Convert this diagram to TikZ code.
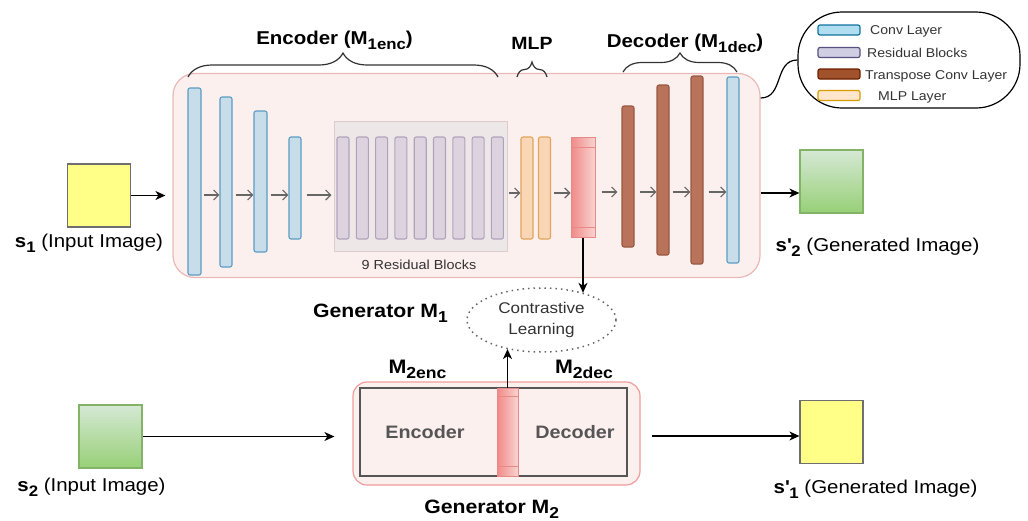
\documentclass[tikz,border=0pt]{standalone}
\usepackage{fontspec}
\setmainfont{Liberation Sans}[FakeStretch=1.1]
\usepackage{graphicx}
\usetikzlibrary{shapes.geometric,arrows.meta,decorations.pathreplacing,calc}

% font size in pt, baseline skip equal to size
\newcommand{\setfs}[1]{\fontsize{#1}{#1}\selectfont}
% lowered, reduced subscript as used in the labels
\newcommand{\lowsub}[1]{\raisebox{-0.28em}{\scalebox{0.82}{#1}}}
\newcommand{\prm}{\textquotesingle}

\definecolor{genfill}{HTML}{FCF0EF}
\definecolor{genedge}{HTML}{EBB9B5}
\definecolor{convfill}{HTML}{C7DDE9}
\definecolor{convedge}{HTML}{5B9DC3}
\definecolor{resfill}{HTML}{DDD3DE}
\definecolor{resedge}{HTML}{B1A2BC}
\definecolor{contfill}{HTML}{EEE7E8}
\definecolor{contedge}{HTML}{DBCDCD}
\definecolor{mlpfill}{HTML}{F9D6B6}
\definecolor{mlpedge}{HTML}{E3A45E}
\definecolor{tconvfill}{HTML}{B8735A}
\definecolor{tconvedge}{HTML}{9A5841}
\definecolor{featl}{HTML}{F08A88}
\definecolor{featr}{HTML}{F9D3D0}
\definecolor{featedge}{HTML}{E68A87}
\definecolor{greentop}{HTML}{D5E8D4}
\definecolor{greenbot}{HTML}{97D077}
\definecolor{greenedge}{HTML}{82B366}
\definecolor{imgyellow}{HTML}{FFFF88}
\definecolor{imgedge}{HTML}{6F6F6F}
\definecolor{flowgray}{HTML}{666666}
\definecolor{keyconv}{HTML}{B1DDF0}
\definecolor{keyconvedge}{HTML}{10739E}
\definecolor{keyres}{HTML}{D0CEE2}
\definecolor{keyresedge}{HTML}{56517E}
\definecolor{keytconv}{HTML}{A0522D}
\definecolor{keytconvedge}{HTML}{6D1F00}
\definecolor{keymlp}{HTML}{FFE6CC}
\definecolor{keymlpedge}{HTML}{D79B00}
\definecolor{txtgray}{HTML}{333333}
\definecolor{boxgray}{HTML}{555555}

\begin{document}
\begin{tikzpicture}[x=1pt,y=-1pt,
  layer/.style={line width=1.1pt, rounded corners=2pt, inner sep=0pt},
  conv/.style={layer, fill=convfill, draw=convedge},
  resblk/.style={layer, fill=resfill, draw=resedge, minimum width=12pt, minimum height=102pt},
  mlpl/.style={layer, fill=mlpfill, draw=mlpedge, minimum width=12pt, minimum height=102pt},
  tconv/.style={layer, fill=tconvfill, draw=tconvedge},
  feat/.style={inner sep=0pt, left color=featl, right color=featr, draw=featedge, line width=1pt},
  featline/.style={draw=featedge, line width=1pt},
  genbox/.style={fill=genfill, draw=genedge, line width=1.2pt, inner sep=0pt},
  greenimg/.style={top color=greentop, bottom color=greenbot, draw=greenedge, line width=1.2pt,
    minimum width=63pt, minimum height=63pt, inner sep=0pt},
  yellowimg/.style={fill=imgyellow, draw=imgedge, line width=1.2pt,
    minimum width=63pt, minimum height=63pt, inner sep=0pt},
  flow/.style={draw=flowgray, line width=1.2pt, -{Straight Barb[length=5pt,width=10pt]}},
  link/.style={draw=black, line width=1.2pt, -{Stealth[length=10pt,width=9pt,inset=3pt]}},
  brc/.style={draw=txtgray, line width=1.2pt, decorate},
  lbl/.style={font=\setfs{18.6}, anchor=base, inner sep=0pt},
  keytxt/.style={font=\setfs{12.8}, text=txtgray, anchor=base west, inner sep=0pt},
  swatch/.style={minimum width=42pt, minimum height=10pt, inner sep=0pt, rounded corners=2pt, line width=1.2pt}
]
\useasboundingbox (0,0) rectangle (1028,520);

% ---------------- Generator M1 ----------------
\node[genbox, rounded corners=22pt, minimum width=587pt, minimum height=204pt] (m1) at (466.5,175.5) {};

% encoder convolutions
\node[conv, minimum width=13pt, minimum height=187pt] (c1) at (194.5,181.5) {};
\node[conv, minimum width=12pt, minimum height=170pt] (c2) at (226,182) {};
\node[conv, minimum width=13pt, minimum height=141pt] (c3) at (260.5,181.5) {};
\node[conv, minimum width=12pt, minimum height=102pt] (c4) at (295,188) {};

% residual blocks
\node[fill=contfill, draw=contedge, line width=1pt, inner sep=0pt,
      minimum width=173pt, minimum height=130pt] (rc) at (420.5,186) {};
\foreach \i in {0,...,8} {
  \node[resblk] (rb\i) at ({343+19.3*\i},188) {};
}
\node[font=\setfs{13.1}, text=txtgray, anchor=base, inner sep=0pt] (rclbl) at (419,269) {9 Residual Blocks};

% MLP layers
\node[mlpl] (p1) at (527,188) {};
\node[mlpl] (p2) at (544.5,188) {};

% feature block
\node[feat, minimum width=24pt, minimum height=100pt] (r1) at (583,187) {};
\draw[featline] ($(r1.north west)+(0,11)$) -- ($(r1.north east)+(0,11)$);
\draw[featline] ($(r1.south west)+(0,-10)$) -- ($(r1.south east)+(0,-10)$);

% decoder transpose convolutions and final convolution
\node[tconv, minimum width=12pt, minimum height=141pt] (t1) at (628,176.5) {};
\node[tconv, minimum width=12pt, minimum height=170pt] (t2) at (663,170) {};
\node[tconv, minimum width=12pt, minimum height=188pt] (t3) at (697,170) {};
\node[conv, minimum width=12pt, minimum height=186pt] (c5) at (733,170) {};

% flow arrows inside M1
\coordinate (ea) at (0,195);
\coordinate (ma) at (0,193);
\coordinate (da) at (0,192);
\draw[flow, shorten <=2pt] (c1.east |- ea) -- (c2.west |- ea);
\draw[flow, shorten <=3pt] (c2.east |- ea) -- (c3.west |- ea);
\draw[flow, shorten <=3pt] (c3.east |- ea) -- (c4.west |- ea);
\draw[flow, shorten <=5pt, shorten >=2pt] (c4.east |- ea) -- (rc.west |- ea);
\draw[flow, shorten <=1pt] (rc.east |- ma) -- (p1.west |- ma);
\draw[flow, shorten <=3pt] (p2.east |- ma) -- (r1.west |- ma);
\draw[flow, shorten <=6pt, shorten >=4pt] (r1.east |- da) -- (t1.west |- da);
\draw[flow, shorten <=5pt] (t1.east |- da) -- (t2.west |- da);
\draw[flow, shorten <=3pt] (t2.east |- da) -- (t3.west |- da);
\draw[flow, shorten <=5pt] (t3.east |- da) -- (c5.west |- da);

% braces and their titles
\draw[brc, decoration={brace, amplitude=24pt}] (188,77) -- (498,77);
\draw[brc, decoration={brace, amplitude=15pt}] (517,77) -- (547,77);
\draw[brc, decoration={brace, amplitude=19pt}] (623,72) -- (737,72);
\node[lbl, font=\setfs{18.6}\bfseries] (enct) at (334.5,44) {Encoder (M\lowsub{1enc})};
\node[lbl, font=\setfs{17.7}\bfseries] (mlpt) at (532,49) {MLP};
\node[lbl, font=\setfs{18.6}\bfseries] (dect) at (685,47) {Decoder (M\lowsub{1dec})};
\node[lbl, font=\setfs{19.3}\bfseries] (g1t) at (380.5,317) {Generator M\lowsub{1}};

% input / output images of M1
\node[yellowimg] (s1) at (99,195.5) {};
\node[lbl] (s1t) at (89,247) {{\bfseries s\lowsub{1}} (Input Image)};
\node[greenimg] (o2) at (831.5,181.5) {};
\node[lbl] (o2t) at (877.5,251.5) {{\bfseries s\prm\lowsub{2}} (Generated Image)};
\draw[link, shorten >=7pt] (s1.east) -- (m1.west |- s1.east);
\coordinate (o2in) at ([yshift=-11.5pt]o2.west);
\draw[link] (m1.east |- o2in) -- (o2in);

% legend
\node[draw, line width=1.2pt, rounded corners=44pt, minimum width=222pt, minimum height=96pt, inner sep=0pt] (lg) at (909,60) {};
\node[swatch, fill=keyconv, draw=keyconvedge] (k1) at (839,30) {};
\node[swatch, fill=keyres, draw=keyresedge] (k2) at (839,52.5) {};
\node[swatch, fill=keytconv, draw=keytconvedge] (k3) at (839,74) {};
\node[swatch, fill=keymlp, draw=keymlpedge] (k4) at (839,95.5) {};
\node[keytxt] (k1t) at (870,34.5) {Conv Layer};
\node[keytxt] (k2t) at (867,57) {Residual Blocks};
\node[keytxt] (k3t) at (865,79) {Transpose Conv Layer};
\node[keytxt] (k4t) at (878,100) {MLP Layer};
\coordinate (lgs) at (0,98);
\draw[line width=1.2pt] (m1.east |- lgs) .. controls (784,98) and (774,60) .. (lg.west);

% ---------------- contrastive learning ----------------
\node[ellipse, draw=flowgray, line width=1.5pt, dash pattern=on 1.5pt off 4pt,
      minimum width=149pt, minimum height=64pt, inner sep=0pt,
      align=center, text=txtgray, font=\fontsize{15.5}{21.5}\selectfont] (cl) at (541.5,320) {Contrastive\\Learning};
\draw[link] (r1.south) -- (r1.south |- cl.33);

% ---------------- Generator M2 ----------------
\node[genbox, draw=genedge!85!red, rounded corners=14pt, minimum width=287pt, minimum height=103pt] (m2) at (496.5,433.5) {};
\node[fill=genfill, draw=boxgray, line width=1.3pt, inner sep=0pt, minimum width=267pt, minimum height=88pt] (m2in) at (493.5,432) {};
\node[feat, minimum width=21pt, minimum height=88pt] (r2) at (507.5,432) {};
\draw[featline] ($(r2.north west)+(0,9)$) -- ($(r2.north east)+(0,9)$);
\draw[featline] ($(r2.south west)+(0,-10)$) -- ($(r2.south east)+(0,-10)$);
\node[lbl, font=\setfs{18}\bfseries, text=boxgray] (m2e) at (425,438) {Encoder};
\node[lbl, font=\setfs{18}\bfseries, text=boxgray] (m2d) at (575,438) {Decoder};
\node[lbl, font=\setfs{19.5}\bfseries] (m2et) at (417.5,373) {M\lowsub{2enc}};
\node[lbl, font=\setfs{19.5}\bfseries] (m2dt) at (584,373) {M\lowsub{2dec}};
\node[lbl, font=\setfs{19.3}\bfseries] (g2t) at (491.7,513) {Generator M\lowsub{2}};
\draw[link] (r2.north) -- (r2.north |- cl.220);

% input / output images of M2
\node[greenimg] (s2) at (110.5,436.5) {};
\node[lbl] (s2t) at (91.5,491.5) {{\bfseries s\lowsub{2}} (Input Image)};
\node[yellowimg] (o1) at (831.5,432) {};
\node[lbl] (o1t) at (875.5,493) {{\bfseries s\prm\lowsub{1}} (Generated Image)};
\draw[link, shorten >=18pt] (s2.east) -- (m2.west |- s2.east);
\coordinate (o1in) at ([yshift=-4pt]o1.west);
\draw[link, shorten <=11pt] (m2.east |- o1in) -- (o1in);

\end{tikzpicture}
\end{document}
